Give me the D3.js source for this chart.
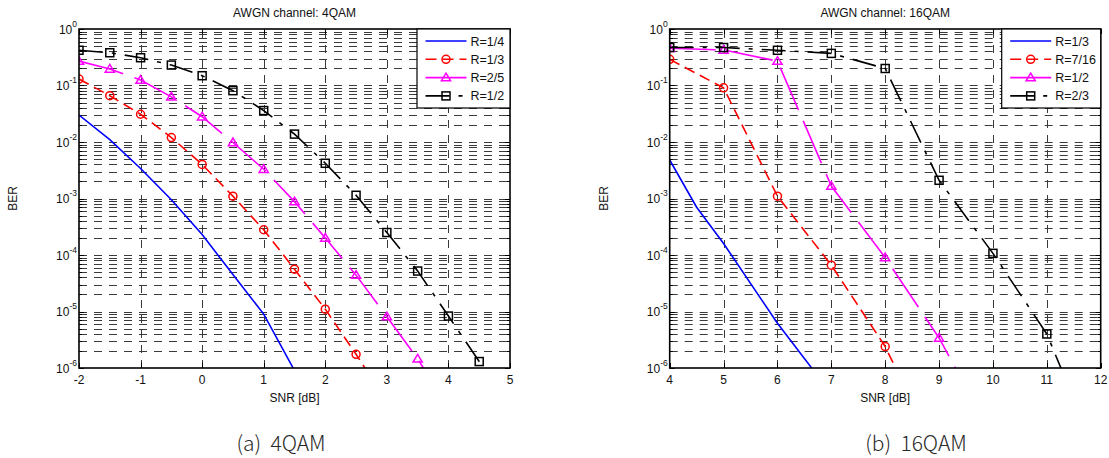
<!DOCTYPE html>
<html>
<head>
<meta charset="utf-8">
<script src="https://cdn.jsdelivr.net/npm/d3@7"></script>
<style>
  body { margin: 0; background: #fff; }
  text { font-family: "Liberation Sans", Arial, sans-serif; }
</style>
</head>
<body>
<svg id="chart" width="1109" height="458"></svg>
<script>
// ---- data ----
// (a) 4QAM, SNR in dB
const snr4 = [-2, -1.5, -1, -0.5, 0, 0.5, 1, 1.5, 2, 2.5, 3, 3.5, 4, 4.5, 5];
const ber4_r14 = [0.030, 0.011, 3.4e-3, 9.5e-4, 2.3e-4, 4.5e-5, 9e-6, 9e-7];
const ber4_r13 = [0.13, 0.066, 0.031, 0.012, 4.0e-3, 1.1e-3, 2.8e-4, 5.6e-5, 1.1e-5, 1.75e-6, 2.5e-7];
const ber4_r25 = [0.27, 0.196, 0.125, 0.063, 0.028, 9.8e-3, 3.3e-3, 8.8e-4, 2.0e-4, 4.4e-5, 8.1e-6, 1.45e-6, 2e-7];
const ber4_r12 = [0.42, 0.38, 0.31, 0.23, 0.149, 0.081, 0.036, 0.0138, 4.2e-3, 1.14e-3, 2.5e-4, 5.2e-5, 8.3e-6, 1.3e-6, 2e-7];
const xTicks4 = [-2, -1, 0, 1, 2, 3, 4, 5];

// (b) 16QAM
const snr16 = [4, 5, 6, 7, 8, 9, 10, 11, 12];
const snr16_r13 = [4, 4.5, 5, 6, 7];
const ber16_r13 = [4.8e-3, 7e-4, 1.6e-4, 6.2e-6, 3.5e-7];
const ber16_r716 = [0.29, 0.091, 1.1e-3, 6.6e-5, 2.4e-6, 2.5e-8];
const ber16_r12 = [0.455, 0.425, 0.27, 1.66e-3, 9e-5, 3.4e-6, 6e-8];
const ber16_r23 = [0.47, 0.47, 0.42, 0.37, 0.20, 2.1e-3, 1.07e-4, 4e-6, 2e-8];
const xTicks16 = [4, 5, 6, 7, 8, 9, 10, 11, 12];

const yDecades = [-6, -5, -4, -3, -2, -1, 0];

// line styles, matlab-ish
const styles = {
    blue:    {color: "#0000ff", dash: null,          marker: null},
    red:     {color: "#ff0000", dash: "11,6",        marker: "circle"},
    magenta: {color: "#ff00ff", dash: "46,12",       marker: "triangle"},
    black:   {color: "#000000", dash: "24,9,4,9",    marker: "square"}
};

const svg = d3.select("#chart");

function zip(xs, ys) {
    return ys.map((v, i) => [xs[i], v]);
}

function drawMarker(sel, type, color) {
    if (type === "circle") {
        sel.append("circle").attr("r", 4);
    } else if (type === "square") {
        sel.append("rect").attr("x", -4).attr("y", -4).attr("width", 8).attr("height", 8);
    } else if (type === "triangle") {
        sel.append("path").attr("d", "M0,-4.5L4.6,3.2L-4.6,3.2Z");
    }
    sel.selectAll("*")
        .attr("fill", "none")
        .attr("stroke", color)
        .attr("stroke-width", 1.5);
}

function drawPanel(p) {
    const x = d3.scaleLinear().domain(p.xDomain).range([p.left, p.right]);
    const y = d3.scaleLog().domain([1e-6, 1]).range([p.bottom, p.top]);
    const g = svg.append("g");

    svg.append("clipPath").attr("id", "clip" + p.id)
        .append("rect")
        .attr("x", p.left).attr("y", p.top)
        .attr("width", p.right - p.left).attr("height", p.bottom - p.top);

    // grid values (major + minor decades)
    const minors = [];
    for (let e = -6; e < 0; e++) {
        for (let k = 2; k < 10; k++) minors.push(k * Math.pow(10, e));
    }
    const gridY = yDecades.map(e => Math.pow(10, e)).concat(minors)
        .filter(v => v > 1e-6 && v < 1);
    const snap = v => Math.round(v) + 0.5;

    g.append("g").selectAll("line")
        .data(gridY)
        .join("line")
        .attr("x1", p.left).attr("x2", p.right)
        .attr("y1", d => snap(y(d))).attr("y2", d => snap(y(d)))
        .attr("stroke", "#3a3a3a")
        .attr("stroke-width", 1)
        .attr("stroke-dasharray", "8,7");

    g.append("g").selectAll("line")
        .data(p.xTicks.slice(1, -1))
        .join("line")
        .attr("x1", d => snap(x(d))).attr("x2", d => snap(x(d)))
        .attr("y1", p.bottom).attr("y2", p.top)
        .attr("stroke", "#3a3a3a")
        .attr("stroke-width", 1)
        .attr("stroke-dasharray", "8,7");

    // inward ticks on all four sides
    const ticks = g.append("g").attr("stroke", "#000").attr("stroke-width", 1);
    yDecades.forEach(e => {
        const yy = snap(y(Math.pow(10, e)));
        ticks.append("line").attr("x1", p.left).attr("x2", p.left + 5).attr("y1", yy).attr("y2", yy);
        ticks.append("line").attr("x1", p.right).attr("x2", p.right - 5).attr("y1", yy).attr("y2", yy);
    });
    minors.forEach(v => {
        const yy = snap(y(v));
        ticks.append("line").attr("x1", p.left).attr("x2", p.left + 3).attr("y1", yy).attr("y2", yy);
        ticks.append("line").attr("x1", p.right).attr("x2", p.right - 3).attr("y1", yy).attr("y2", yy);
    });
    p.xTicks.forEach(v => {
        const xx = snap(x(v));
        ticks.append("line").attr("x1", xx).attr("x2", xx).attr("y1", p.bottom).attr("y2", p.bottom - 5);
        ticks.append("line").attr("x1", xx).attr("x2", xx).attr("y1", p.top).attr("y2", p.top + 5);
    });

    // data lines
    const line = d3.line().x(d => x(d[0])).y(d => y(d[1]));
    const lines = g.append("g").attr("clip-path", "url(#clip" + p.id + ")");
    p.series.forEach(s => {
        const st = styles[s.style];
        const pts = zip(s.x, s.y);
        lines.append("path")
            .datum(pts)
            .attr("d", line)
            .attr("fill", "none")
            .attr("stroke", st.color)
            .attr("stroke-width", 1.6)
            .attr("stroke-dasharray", st.dash);
        if (st.marker) {
            const inside = pts.filter(d => d[1] >= 1e-6 && d[0] <= p.xDomain[1]);
            inside.forEach(d => {
                const m = lines.append("g").attr("transform", `translate(${x(d[0])},${y(d[1])})`);
                drawMarker(m, st.marker, st.color);
            });
        }
    });

    // box
    g.append("rect")
        .attr("x", p.left).attr("y", p.top)
        .attr("width", p.right - p.left).attr("height", p.bottom - p.top)
        .attr("fill", "none").attr("stroke", "#000").attr("stroke-width", 1.6);

    // y tick labels 10^n
    yDecades.forEach(e => {
        const t = g.append("text")
            .attr("x", p.left - 2)
            .attr("y", y(Math.pow(10, e)) + 4.5)
            .attr("text-anchor", "end")
            .attr("font-size", 12)
            .attr("fill", "#111");
        t.append("tspan").text("10");
        t.append("tspan").attr("dy", -7).attr("font-size", 8.5).text(e);
    });

    // x tick labels
    g.append("g").selectAll("text")
        .data(p.xTicks)
        .join("text")
        .attr("x", d => x(d))
        .attr("y", p.bottom + 16)
        .attr("text-anchor", "middle")
        .attr("font-size", 12)
        .attr("fill", "#111")
        .text(d => d);

    const mid = (p.left + p.right) / 2;
    g.append("text")
        .attr("x", mid).attr("y", p.bottom + 34)
        .attr("text-anchor", "middle").attr("font-size", 12).attr("fill", "#111")
        .text("SNR [dB]");
    g.append("text")
        .attr("transform", `translate(${p.left - 62},${(p.top + p.bottom) / 2}) rotate(-90)`)
        .attr("text-anchor", "middle").attr("font-size", 12).attr("fill", "#111")
        .text("BER");
    g.append("text")
        .attr("x", mid).attr("y", 17)
        .attr("text-anchor", "middle").attr("font-size", 12).attr("fill", "#111")
        .text(p.title);

    // caption under the panel
    svg.append("text")
        .attr("x", p.captionX).attr("y", 451)
        .attr("text-anchor", "middle")
        .style("font-family", "'Noto Sans CJK KR', 'Noto Sans', sans-serif")
        .style("white-space", "pre")
        .attr("font-size", 21)
        .attr("font-weight", 300)
        .attr("fill", "#2a2a2a")
        .text(p.caption);

    // legend
    const lx = p.right - p.legendWidth;
    const lg = g.append("g");
    lg.append("rect")
        .attr("x", lx).attr("y", p.top)
        .attr("width", p.legendWidth).attr("height", 79)
        .attr("fill", "#fff").attr("stroke", "#000").attr("stroke-width", 1.2);
    p.series.forEach((s, i) => {
        const st = styles[s.style];
        const ly = p.top + 12 + i * 18.3;
        lg.append("line")
            .attr("x1", lx + 8.5).attr("x2", lx + 49.5)
            .attr("y1", ly).attr("y2", ly)
            .attr("stroke", st.color).attr("stroke-width", 1.6)
            .attr("stroke-dasharray", st.dash);
        if (st.marker) {
            const m = lg.append("g").attr("transform", `translate(${lx + 29},${ly})`);
            drawMarker(m, st.marker, st.color);
        }
        lg.append("text")
            .attr("x", lx + 53.5).attr("y", ly + 4.5)
            .attr("font-size", 12.5).attr("fill", "#111")
            .text(s.name);
    });
}

drawPanel({
    id: "a", left: 79, right: 510, top: 29, bottom: 368,
    xDomain: [-2, 5], xTicks: xTicks4,
    title: "AWGN channel: 4QAM", caption: "(a)  4QAM", captionX: 281,
    legendWidth: 93,
    series: [
        {name: "R=1/4", x: snr4, y: ber4_r14, style: "blue"},
        {name: "R=1/3", x: snr4, y: ber4_r13, style: "red"},
        {name: "R=2/5", x: snr4, y: ber4_r25, style: "magenta"},
        {name: "R=1/2", x: snr4, y: ber4_r12, style: "black"}
    ]
});

drawPanel({
    id: "b", left: 669.7, right: 1100.7, top: 29, bottom: 368,
    xDomain: [4, 12], xTicks: xTicks16,
    title: "AWGN channel: 16QAM", caption: "(b)  16QAM", captionX: 916,
    legendWidth: 99,
    series: [
        {name: "R=1/3", x: snr16_r13, y: ber16_r13, style: "blue"},
        {name: "R=7/16", x: snr16, y: ber16_r716, style: "red"},
        {name: "R=1/2", x: snr16, y: ber16_r12, style: "magenta"},
        {name: "R=2/3", x: snr16, y: ber16_r23, style: "black"}
    ]
});
</script>
</body>
</html>
